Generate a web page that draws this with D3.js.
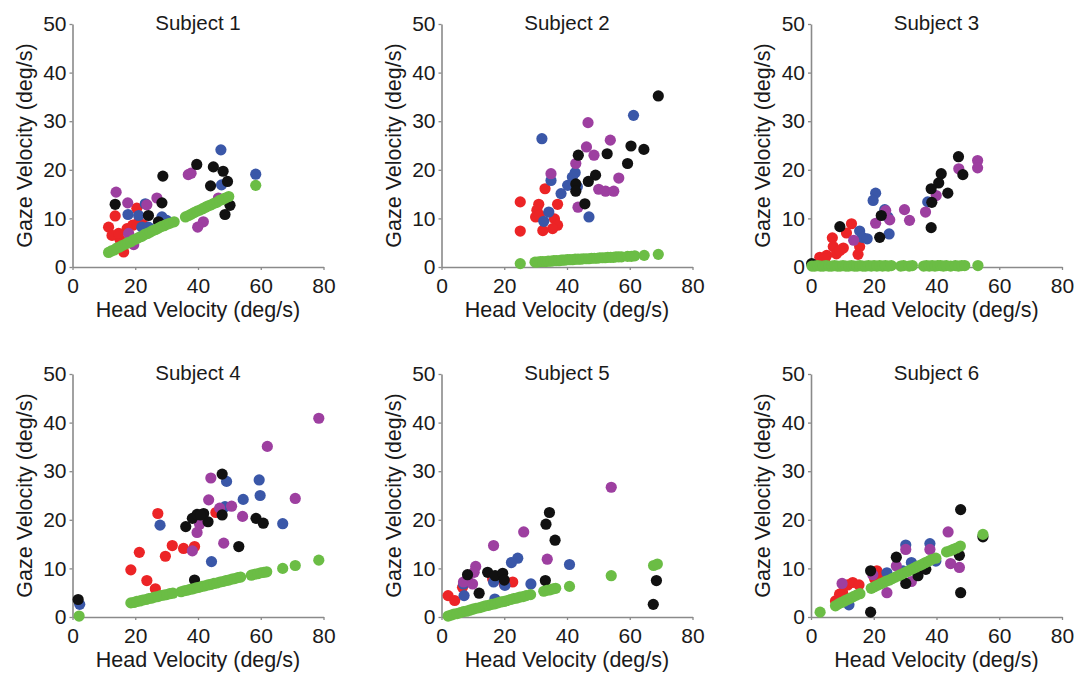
<!DOCTYPE html>
<html>
<head>
<meta charset="utf-8">
<script src="https://cdn.jsdelivr.net/npm/d3@7"></script>
<style>
  body { margin: 0; background: #ffffff; }
  svg text { font-family: "Liberation Sans", Arial, Helvetica, sans-serif; fill: #1a1a1a; }
</style>
</head>
<body>
<svg id="chart" width="1077" height="676"></svg>
<script>
// ---- axis ticks & labels ----
const xTicks = [0, 20, 40, 60, 80];
const yTicks = [0, 10, 20, 30, 40, 50];
const subjects = ["Subject 1", "Subject 2", "Subject 3", "Subject 4", "Subject 5", "Subject 6"];
const xLabel = "Head Velocity (deg/s)";
const yLabel = "Gaze Velocity (deg/s)";

// ---- Subject 1 (head velocity, gaze velocity) ----
const s1Red = [[11.5,8.2],[13.6,10.5],[15.2,5.5],[12.6,6.5],[16.3,3.1],[20.5,12.1],[21.1,9.3],[19.2,8.6],[22.6,8.6],[17.4,7.9],[14.7,6.9],[15.6,4.0]];
const s1Blue = [[47.3,24.1],[58.4,19.1],[47.5,16.9],[17.7,10.8],[23.2,13.0],[22.1,8.2],[28.5,10.3],[30.0,9.6],[21.1,10.6],[24.2,8.2]];
const s1Purple = [[13.9,15.4],[17.6,13.2],[26.9,14.2],[23.7,12.8],[36.9,19.0],[37.8,19.3],[41.7,9.3],[39.9,8.2],[46.5,14.2],[17.9,6.9],[19.5,4.6]];
const s1Black = [[13.6,12.9],[28.8,18.7],[28.5,13.2],[24.2,10.6],[27.4,9.3],[39.6,21.1],[44.9,20.6],[48.0,19.7],[49.4,17.6],[44.0,16.7],[50.2,12.7],[48.6,10.8]];
const s1Green = [[11.5,3.0],[12.4,3.3],[13.3,3.5],[14.1,3.9],[15.0,4.1],[15.8,4.4],[16.9,4.7],[17.7,5.0],[18.6,5.2],[19.5,5.6],[20.4,5.8],[21.2,6.1],[22.1,6.3],[23.0,6.7],[23.9,6.9],[24.8,7.2],[25.6,7.5],[26.5,7.7],[27.4,8.0],[28.3,8.3],[29.2,8.5],[30.1,8.8],[31.0,9.0],[32.4,9.3],[36.0,10.3],[37.0,10.6],[37.9,10.9],[38.8,11.2],[39.7,11.5],[40.6,11.7],[41.5,12.0],[42.4,12.3],[43.3,12.6],[44.2,12.8],[45.1,13.1],[46.0,13.3],[46.9,13.7],[47.8,13.9],[48.7,14.2],[49.8,14.5],[58.4,16.8]];

// ---- Subject 2 ----
const s2Red = [[25.1,13.4],[25.1,7.4],[33.0,16.1],[31.0,12.9],[30.4,11.7],[30.0,10.3],[37.0,12.9],[36.0,9.9],[37.0,8.6],[35.4,7.9],[32.3,7.5],[31.2,10.7]];
const s2Blue = [[32.0,26.4],[61.2,31.2],[42.6,19.4],[41.7,18.5],[34.9,17.8],[40.2,16.8],[38.1,15.1],[34.2,11.3],[32.6,9.4],[47.0,10.3],[43.3,16.5]];
const s2Purple = [[46.7,29.7],[46.2,24.7],[53.8,26.1],[48.6,23.0],[42.8,21.3],[34.9,19.2],[56.5,18.3],[50.1,16.0],[52.3,15.6],[54.9,15.6],[43.5,12.3]];
const s2Black = [[69.1,35.2],[60.4,24.9],[64.5,24.2],[59.3,21.3],[52.8,23.3],[43.6,23.0],[49.1,18.9],[46.8,17.6],[42.8,17.1],[42.8,15.6],[45.7,13.0]];
const s2Green = [[25.1,0.7],[29.8,1.0],[30.6,1.0],[31.5,1.1],[32.3,1.1],[33.2,1.1],[34.0,1.2],[34.9,1.2],[35.8,1.3],[36.6,1.3],[37.5,1.3],[38.3,1.4],[39.2,1.4],[40.1,1.5],[40.9,1.5],[41.8,1.5],[42.6,1.6],[43.5,1.6],[44.4,1.6],[45.2,1.7],[46.1,1.7],[47.0,1.7],[47.8,1.8],[48.7,1.8],[49.6,1.8],[50.4,1.9],[51.3,1.9],[52.2,1.9],[53.0,2.0],[53.9,2.0],[54.8,2.0],[55.6,2.1],[56.5,2.1],[57.4,2.1],[59.3,2.2],[60.5,2.2],[61.6,2.3],[64.6,2.4],[69.1,2.6]];

// ---- Subject 3 ----
const s3Red = [[12.9,8.9],[11.3,7.0],[6.8,6.0],[7.1,4.2],[10.3,3.9],[8.1,2.7],[15.5,4.2],[15.0,2.6],[2.8,2.0],[5.0,2.4],[9.2,3.4],[4.4,1.7]];
const s3Blue = [[20.6,15.2],[19.8,13.7],[23.5,11.8],[24.5,10.3],[24.9,6.8],[15.5,7.4],[16.4,6.1],[17.9,5.8],[37.2,13.4]];
const s3Purple = [[53.1,21.9],[53.1,20.4],[47.1,20.2],[39.9,14.7],[36.5,11.3],[29.8,11.8],[31.4,9.6],[25.1,9.7],[23.8,11.6],[20.6,9.0],[13.6,5.5]];
const s3Black = [[47.0,22.7],[48.4,19.0],[41.5,19.2],[40.7,17.3],[38.3,16.1],[43.6,15.2],[38.5,13.3],[38.3,8.1],[22.4,10.6],[21.9,6.1],[9.2,8.3],[0.2,0.7]];
const s3Green = [[0.3,0.2],[1.2,0.2],[2.1,0.3],[3.0,0.2],[3.9,0.2],[4.8,0.3],[5.7,0.2],[6.6,0.2],[7.5,0.3],[8.4,0.2],[9.3,0.2],[10.2,0.3],[11.1,0.2],[12.0,0.2],[12.9,0.3],[13.8,0.2],[14.7,0.2],[15.6,0.3],[16.5,0.2],[17.4,0.2],[18.3,0.3],[19.2,0.2],[20.1,0.3],[21.0,0.2],[21.9,0.3],[22.8,0.2],[23.7,0.3],[24.6,0.2],[25.6,0.3],[28.6,0.2],[29.5,0.3],[31.3,0.2],[32.3,0.3],[35.9,0.2],[36.8,0.3],[37.7,0.2],[38.6,0.3],[39.5,0.2],[40.4,0.3],[41.3,0.3],[42.2,0.2],[43.1,0.3],[44.5,0.2],[46.0,0.3],[47.0,0.2],[48.0,0.3],[49.0,0.3],[53.2,0.3]];

// ---- Subject 4 ----
const s4Red = [[27.2,21.3],[21.3,13.3],[18.6,9.7],[23.7,7.5],[26.4,5.8],[29.6,12.5],[31.8,14.7],[35.4,14.1],[38.9,14.5],[45.7,21.5]];
const s4Blue = [[59.5,28.2],[59.8,25.0],[49.1,27.9],[54.4,24.2],[67.0,19.2],[27.9,18.9],[44.3,11.4],[48.6,22.7],[2.3,2.6]];
const s4Purple = [[78.5,40.9],[62.1,35.1],[71.0,24.4],[44.1,28.6],[43.4,24.1],[46.9,22.4],[50.7,22.8],[54.2,20.7],[48.2,15.2],[39.7,17.4],[40.5,19.1],[38.2,13.6]];
const s4Black = [[47.7,29.4],[36.1,18.6],[38.2,20.3],[39.7,21.1],[41.8,21.3],[43.2,19.6],[47.7,21.0],[58.5,20.3],[60.8,19.3],[53.0,14.5],[38.9,7.6],[1.8,3.6],[40.8,21.0]];
const s4Green = [[2.1,0.2],[18.6,2.9],[19.6,3.0],[20.5,3.2],[21.5,3.3],[22.4,3.5],[23.4,3.6],[24.3,3.8],[25.3,3.9],[26.2,4.1],[27.2,4.2],[28.1,4.4],[29.1,4.5],[30.0,4.6],[31.0,4.8],[32.0,4.9],[34.6,5.2],[35.6,5.4],[36.5,5.5],[37.5,5.7],[38.4,5.8],[39.4,6.0],[40.3,6.1],[41.3,6.3],[42.2,6.4],[43.2,6.6],[44.1,6.7],[45.1,6.9],[46.0,7.0],[47.0,7.2],[47.9,7.3],[48.9,7.5],[49.8,7.6],[50.8,7.8],[51.7,7.9],[52.7,8.1],[53.6,8.2],[57.0,8.6],[58.0,8.8],[59.0,8.9],[60.0,9.1],[61.0,9.2],[61.9,9.3],[67.0,10.0],[71.0,10.6],[78.5,11.7]];

// ---- Subject 5 ----
const s5Red = [[2.1,4.4],[4.2,3.4],[22.7,7.2],[20.0,6.8],[16.3,7.8],[6.7,6.1]];
const s5Blue = [[40.8,10.8],[24.3,12.1],[22.3,11.2],[28.5,6.8],[16.6,7.2],[7.2,4.4],[7.0,6.8],[17.0,3.7],[20.2,6.5]];
const s5Purple = [[54.1,26.7],[26.2,17.5],[16.6,14.7],[33.7,11.9],[10.9,10.4],[10.4,9.2],[8.3,7.8],[9.9,6.8],[7.0,7.2]];
const s5Black = [[34.4,21.5],[33.3,19.1],[36.2,15.8],[33.1,7.5],[68.5,7.5],[67.5,2.6],[8.3,8.7],[12.0,4.9],[14.7,9.2],[17.1,8.5],[19.5,9.0],[20.0,7.6]];
const s5Green = [[2.1,0.2],[3.1,0.4],[4.0,0.6],[5.0,0.7],[6.0,0.9],[7.0,1.1],[8.0,1.2],[9.0,1.4],[10.0,1.6],[11.0,1.8],[12.0,1.9],[13.0,2.1],[14.0,2.3],[15.0,2.4],[16.0,2.6],[17.0,2.7],[18.0,2.9],[19.0,3.1],[20.0,3.2],[21.0,3.4],[22.0,3.6],[23.0,3.8],[24.0,3.9],[25.0,4.1],[26.0,4.2],[27.0,4.4],[28.4,4.6],[32.6,5.3],[33.6,5.5],[34.6,5.6],[35.6,5.8],[36.4,5.9],[40.8,6.3],[54.1,8.5],[67.6,10.6],[68.8,10.9]];

// ---- Subject 6 ----
const s6Red = [[10.1,5.0],[11.7,6.6],[13.3,7.1],[15.3,6.6],[7.8,3.3],[9.1,4.7],[21.0,9.5],[21.9,8.2],[20.3,7.8]];
const s6Blue = [[30.2,14.8],[37.9,15.1],[24.2,9.1],[32.0,11.2],[39.8,11.5],[12.1,2.5],[29.3,9.5]];
const s6Purple = [[43.7,17.5],[47.3,10.2],[44.5,11.0],[37.9,13.9],[30.2,13.9],[24.2,5.0],[9.9,6.9],[27.2,10.5],[32.0,7.3],[19.7,8.7]];
const s6Black = [[47.7,22.1],[47.3,12.7],[47.7,5.0],[27.2,12.3],[19.0,9.5],[19.0,1.0],[30.2,6.9],[34.1,8.5],[36.6,9.8],[32.3,9.8],[54.8,16.5]];
const s6Green = [[2.9,1.0],[7.8,2.3],[8.8,2.7],[9.7,3.0],[10.7,3.3],[11.6,3.6],[12.6,3.9],[13.5,4.2],[14.5,4.5],[15.6,4.8],[19.2,5.9],[20.2,6.2],[21.1,6.5],[22.1,6.8],[23.1,7.1],[24.0,7.4],[25.0,7.6],[25.9,7.9],[26.9,8.2],[27.9,8.5],[28.8,8.8],[29.8,9.1],[30.8,9.4],[31.7,9.7],[32.7,10.0],[33.6,10.3],[34.6,10.6],[35.6,10.9],[36.5,11.2],[37.5,11.5],[38.4,11.8],[39.8,12.1],[43.2,13.4],[44.3,13.6],[45.3,13.9],[46.4,14.2],[47.6,14.6],[54.8,17.0]];

// marker colours, drawn in this order (green on top)
const seriesColors = ["#ec2426", "#3a57a8", "#9d3fa0", "#111111", "#6bbd45"];
const panelSeries = [
  [s1Red, s1Blue, s1Purple, s1Black, s1Green],
  [s2Red, s2Blue, s2Purple, s2Black, s2Green],
  [s3Red, s3Blue, s3Purple, s3Black, s3Green],
  [s4Red, s4Blue, s4Purple, s4Black, s4Green],
  [s5Red, s5Blue, s5Purple, s5Black, s5Green],
  [s6Red, s6Blue, s6Purple, s6Black, s6Green]
];

// ---- layout ----
const colLeft = [72.5, 441.5, 811];
const rowTop = [24, 374];
const plotW = 251, plotH = 243;
const dotR = 5.6;

const svg = d3.select("#chart");

subjects.forEach((name, i) => {
  const left = colLeft[i % 3], top = rowTop[Math.floor(i / 3)];
  const g = svg.append("g").attr("transform", `translate(${left},${top})`);
  const x = d3.scaleLinear().domain([0, 80]).range([0, plotW]);
  const y = d3.scaleLinear().domain([0, 50]).range([plotH, 0]);

  // axes
  const ax = g.append("g").attr("transform", `translate(0,${plotH})`)
    .call(d3.axisBottom(x).tickValues(xTicks).tickSize(3).tickSizeOuter(0).tickPadding(8));
  const ay = g.append("g")
    .call(d3.axisLeft(y).tickValues(yTicks).tickSize(3).tickSizeOuter(0).tickPadding(3));
  [ax, ay].forEach(a => {
    a.select(".domain").attr("stroke", "#8a8a8a").attr("stroke-width", 1.6);
    a.selectAll(".tick line").attr("stroke", "#8a8a8a").attr("stroke-width", 1.3);
    a.selectAll(".tick text").attr("font-size", 21).attr("fill", "#1a1a1a")
      .attr("font-family", "'Liberation Sans', Arial, sans-serif");
  });

  // markers
  panelSeries[i].forEach((pts, k) => {
    g.append("g").selectAll("circle").data(pts).join("circle")
      .attr("cx", d => x(d[0]))
      .attr("cy", d => y(d[1]))
      .attr("r", dotR)
      .attr("fill", seriesColors[k]);
  });

  // title and axis titles
  g.append("text").attr("x", x(40)).attr("y", 5.5)
    .attr("text-anchor", "middle").attr("font-size", 20.5).text(name);
  g.append("text").attr("x", x(40)).attr("y", plotH + 49.5)
    .attr("text-anchor", "middle").attr("font-size", 21.5).text(xLabel);
  g.append("text")
    .attr("transform", `translate(-41,${plotH / 2}) rotate(-90)`)
    .attr("text-anchor", "middle").attr("font-size", 21.5).text(yLabel);
});
</script>
</body>
</html>
